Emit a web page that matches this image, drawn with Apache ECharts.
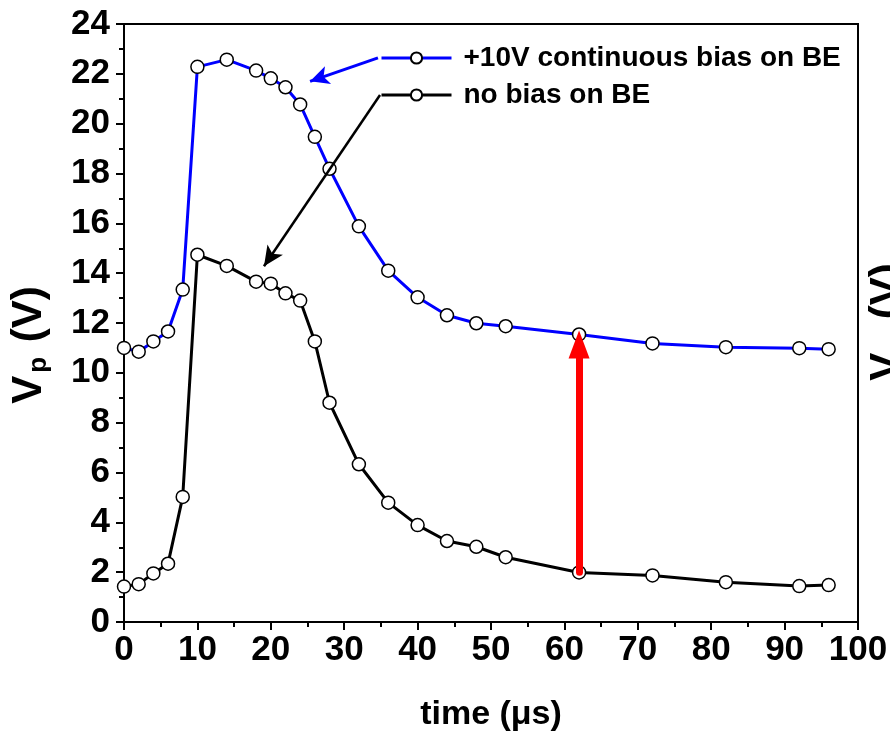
<!DOCTYPE html>
<html>
<head>
<meta charset="utf-8">
<script src="https://cdn.jsdelivr.net/npm/echarts@6/dist/echarts.min.js"></script>
<style>
html,body{margin:0;padding:0;background:#fff;}
#chart{width:890px;height:734px;}
</style>
</head>
<body>
<div id="chart"></div>
<script>
// ---- data ----
const time = [0, 2, 4, 6, 8, 10, 14, 18, 20, 22, 24, 26, 28, 32, 36, 40, 44, 48, 52, 62, 72, 82, 92, 96];
const biasBE = [11.0, 10.85, 11.26, 11.66, 13.34, 22.28, 22.57, 22.13, 21.82, 21.46, 20.77, 19.47, 18.19, 15.88, 14.1, 13.03, 12.31, 11.99, 11.87, 11.54, 11.18, 11.03, 10.99, 10.95];
const noBiasBE = [1.42, 1.52, 1.95, 2.34, 5.02, 14.74, 14.29, 13.66, 13.58, 13.19, 12.9, 11.26, 8.8, 6.33, 4.79, 3.89, 3.25, 3.02, 2.6, 1.99, 1.87, 1.6, 1.44, 1.48];
const seriesNames = ['+10V continuous bias on BE', 'no bias on BE'];
const xTitle = 'time (\u03bcs)';
// annotation arrows in data coordinates [from, to]
const blueArrow = [[34.6, 22.64], [25.35, 21.70]];
const blackArrow = [[34.88, 21.15], [19.07, 14.28]];
const redArrow = [[62, 2.0], [62, 11.14]];

const FONT = '"Liberation Sans", Arial, sans-serif';
const chart = echarts.init(document.getElementById('chart'), null, {renderer: 'canvas'});

function pairs(xs, ys) { return xs.map((x, i) => [x, ys[i]]); }

const markerStyle = {color: '#ffffff', borderColor: '#000000', borderWidth: 1.5};
const titleRich = {
  v: {fontFamily: FONT, fontWeight: 'bold', fontSize: 42, color: '#000', fill: '#000', lineHeight: 46},
  p: {fontFamily: FONT, fontWeight: 'bold', fontSize: 26, color: '#000', fill: '#000', lineHeight: 46, verticalAlign: 'bottom', padding: [14, 3, 0, 3]}
};

const option = {
  animation: false,
  backgroundColor: '#ffffff',
  grid: {left: 124, right: 32, top: 24, bottom: 112, show: true, borderColor: '#000', borderWidth: 2, backgroundColor: 'transparent', containLabel: false, outerBoundsMode: 'none'},
  legend: {
    orient: 'vertical',
    left: 375,
    top: 39,
    itemWidth: 70,
    itemHeight: 14,
    itemGap: 9,
    selectedMode: false,
    lineStyle: {width: 3},
    textStyle: {fontFamily: FONT, fontWeight: 'bold', fontSize: 28, color: '#000', padding: [0, 0, 0, 7], lineHeight: 28},
    data: seriesNames
  },
  xAxis: {
    type: 'value', min: 0, max: 100, interval: 10,
    name: xTitle, nameLocation: 'middle', nameGap: 76,
    nameTextStyle: {fontFamily: FONT, fontWeight: 'bold', fontSize: 34, color: '#000'},
    axisLine: {show: true, lineStyle: {color: '#000', width: 2}},
    axisTick: {show: true, inside: false, length: 8, lineStyle: {color: '#000', width: 2}},
    minorTick: {show: true, splitNumber: 2, length: 5, lineStyle: {color: '#000', width: 2}},
    splitLine: {show: false},
    axisLabel: {fontFamily: FONT, fontWeight: 'bold', fontSize: 35, color: '#000', margin: 11}
  },
  yAxis: {
    type: 'value', min: 0, max: 24, interval: 2,
    name: '{v|V}{p|p}{v| (V)}', nameLocation: 'middle', nameGap: 72,
    nameTextStyle: {
      padding: [0, 44, 0, 0],
      rich: titleRich
    },
    axisLine: {show: true, lineStyle: {color: '#000', width: 2}},
    axisTick: {show: true, inside: false, length: 8, lineStyle: {color: '#000', width: 2}},
    minorTick: {show: true, splitNumber: 2, length: 5, lineStyle: {color: '#000', width: 2}},
    splitLine: {show: false},
    axisLabel: {fontFamily: FONT, fontWeight: 'bold', fontSize: 35, color: '#000', margin: 14}
  },
  series: [
    {
      name: seriesNames[0], type: 'line', data: pairs(time, biasBE),
      symbol: 'circle', symbolSize: 13, showAllSymbol: true,
      lineStyle: {color: '#0000ff', width: 3},
      itemStyle: markerStyle,
      emphasis: {disabled: true},
      z: 3,
      markLine: {
        silent: true, animation: false,
        symbol: ['none', 'arrow'], symbolSize: [14, 19],
        label: {show: false},
        lineStyle: {color: '#0000ff', width: 3, type: 'solid'},
        emphasis: {disabled: true},
        data: [[{coord: blueArrow[0]}, {coord: blueArrow[1]}]]
      }
    },
    {
      name: seriesNames[1], type: 'line', data: pairs(time, noBiasBE),
      symbol: 'circle', symbolSize: 13, showAllSymbol: true,
      lineStyle: {color: '#000000', width: 3},
      itemStyle: markerStyle,
      emphasis: {disabled: true},
      z: 3,
      markLine: {
        silent: true, animation: false,
        symbol: ['none', 'arrow'], symbolSize: [14, 20],
        label: {show: false},
        lineStyle: {color: '#000000', width: 2.5, type: 'solid'},
        emphasis: {disabled: true},
        data: [[{coord: blackArrow[0]}, {coord: blackArrow[1]}]]
      }
    },
    {
      name: 'red', type: 'line', data: [],
      z: 5,
      markLine: {
        silent: true, animation: false,
        symbol: ['none', 'path://M0,0 L10,24 L-10,24 Z'], symbolSize: [21, 28],
        label: {show: false},
        lineStyle: {color: '#ff0000', width: 7, type: 'solid', cap: 'round'},
        emphasis: {disabled: true},
        data: [[{coord: redArrow[0]}, {coord: redArrow[1]}]]
      }
    }
  ],
  graphic: [
    {
      type: 'text', x: 887, y: 322, rotation: Math.PI / 2,
      style: {
        text: '{v|V}{p|p}{v| (V)}', align: 'center', verticalAlign: 'middle',
        rich: titleRich
      }
    }
  ]
};
chart.setOption(option);
</script>
</body>
</html>
